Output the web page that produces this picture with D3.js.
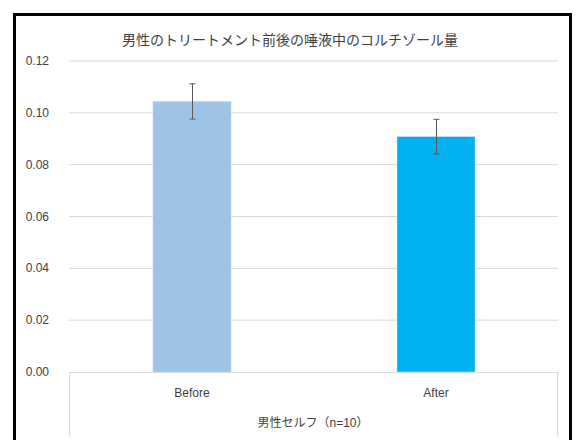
<!DOCTYPE html>
<html><head><meta charset="utf-8">
<script src="https://cdn.jsdelivr.net/npm/d3@7"></script>
<style>body{margin:0;background:#fff}svg{display:block}</style>
</head><body>
<script>
const categories = ["Before", "After"];
const values = [0.1044, 0.0908];
const errors = [0.0068, 0.0067];
const yTicks = [0, 0.02, 0.04, 0.06, 0.08, 0.10, 0.12];
const colors = ["#9DC3E6", "#00B0F0"];
const title = "男性のトリートメント前後の唾液中のコルチゾール量";
const axisTitle = "男性セルフ（n=10）";

(function () {
const W = 576, H = 440;
const svg = d3.select("body").append("svg").attr("width", W).attr("height", H);
const font = "'Liberation Sans', Arial, 'Noto Sans CJK JP', sans-serif";

// outer frame
svg.append("rect").attr("x", 14.5).attr("y", 14.5).attr("width", 556).attr("height", 440)
  .attr("fill", "#fff").attr("stroke", "#000").attr("stroke-width", 3);

const mLeft = 69, mRight = 557, mTop = 61, mBottom = 372;
const y = d3.scaleLinear().domain([0, 0.12]).range([mBottom, mTop]);
const x = d3.scaleBand().domain(categories).range([mLeft, mRight]).paddingInner(0).paddingOuter(0);

// gridlines
svg.append("g").selectAll("line").data(yTicks.filter(d => d > 0)).join("line")
  .attr("x1", mLeft).attr("x2", mRight + 1).attr("y1", d => y(d)).attr("y2", d => y(d))
  .attr("stroke", "#D9D9D9").attr("stroke-width", 1);

// y labels
svg.append("g").selectAll("text").data(yTicks).join("text")
  .attr("x", 49).attr("y", d => y(d) + 4).attr("text-anchor", "end")
  .attr("font-family", font).attr("font-size", 12).attr("fill", "#404040")
  .text(d => d3.format(".2f")(d));

// bars
const bw = 78;
svg.append("g").selectAll("rect").data(categories).join("rect")
  .attr("x", d => x(d) + x.bandwidth() / 2 - bw / 2 + 1)
  .attr("width", bw)
  .attr("y", (d, i) => y(values[i]))
  .attr("height", (d, i) => mBottom - y(values[i]))
  .attr("fill", (d, i) => colors[i])
  .attr("stroke", "#BDD7EE").attr("stroke-width", 0.6);

// error bars
const eg = svg.append("g").attr("stroke", "#595959").attr("stroke-width", 1);
categories.forEach((c, i) => {
  const cx = Math.round(x(c) + x.bandwidth() / 2 + 1) + 0.5;
  eg.append("line").attr("x1", cx).attr("x2", cx).attr("y1", y(values[i] + errors[i])).attr("y2", y(values[i] - errors[i]));
  eg.append("line").attr("x1", cx - 3).attr("x2", cx + 3).attr("y1", y(values[i] + errors[i])).attr("y2", y(values[i] + errors[i]));
  eg.append("line").attr("x1", cx - 3).attr("x2", cx + 3).attr("y1", y(values[i] - errors[i])).attr("y2", y(values[i] - errors[i]));
});

// category axis box
const ag = svg.append("g").attr("stroke", "#D9D9D9").attr("stroke-width", 1);
ag.append("line").attr("x1", mLeft).attr("x2", mRight + 1).attr("y1", mBottom + 0.5).attr("y2", mBottom + 0.5);
ag.append("line").attr("x1", mLeft + 0.5).attr("x2", mLeft + 0.5).attr("y1", mBottom).attr("y2", 436);
ag.append("line").attr("x1", mRight + 0.5).attr("x2", mRight + 0.5).attr("y1", mBottom).attr("y2", 436);

svg.append("g").selectAll("text").data(categories).join("text")
  .attr("x", d => x(d) + x.bandwidth() / 2 + 1).attr("y", 397).attr("text-anchor", "middle")
  .attr("font-family", font).attr("font-size", 12).attr("fill", "#404040").text(d => d);

svg.append("text").attr("x", (mLeft + mRight) / 2).attr("y", 427).attr("text-anchor", "middle")
  .attr("font-family", font).attr("font-size", 12).attr("fill", "#404040").text(axisTitle);

svg.append("text").attr("x", 290).attr("y", 45).attr("text-anchor", "middle")
  .attr("font-family", font).attr("font-size", 14).attr("fill", "#404040").text(title);
})();
</script>
</body></html>
